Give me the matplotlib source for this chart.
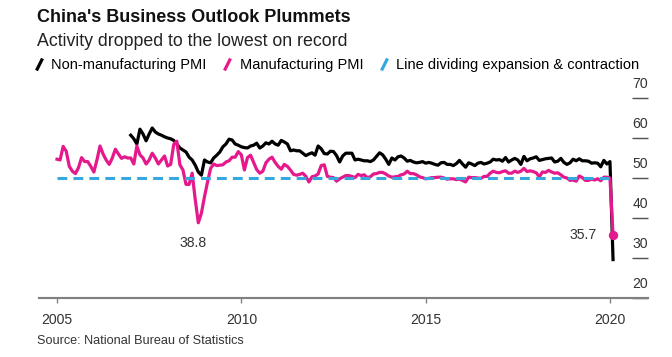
import matplotlib
matplotlib.use('Agg')
import matplotlib.pyplot as plt
import matplotlib.transforms as mtransforms
from matplotlib.lines import Line2D
import numpy as np

plt.rcParams['font.family'] = ['Liberation Sans', 'DejaVu Sans']

# monthly readings, Jan 2005 - Feb 2020
mfg_pmi = [
    54.7, 54.5, 57.9, 56.7, 52.9, 51.7, 51.1, 52.6, 55.1, 54.1, 54.1, 52.9,  # 2005
    51.5, 54.5, 58.0, 56.0, 54.5, 53.4, 55.0, 57.2, 56.0, 54.9, 55.3, 55.0,  # 2006
    55.0, 53.5, 58.0, 55.8, 55.0, 53.5, 54.5, 56.2, 55.0, 53.5, 54.5, 55.5,  # 2007
    53.0, 53.4, 58.4, 59.2, 53.3, 52.0, 48.4, 48.4, 51.2, 44.6, 38.8, 41.2,  # 2008
    45.3, 49.0, 52.4, 53.5, 53.1, 53.2, 53.3, 54.0, 54.3, 55.2, 55.2, 56.6,  # 2009
    55.8, 52.0, 55.1, 55.7, 53.9, 52.1, 51.2, 51.7, 53.8, 54.7, 55.2, 53.9,  # 2010
    52.9, 52.2, 53.4, 52.9, 52.0, 50.9, 50.7, 50.9, 51.2, 50.4, 49.0, 50.3,  # 2011
    50.5, 51.0, 53.1, 53.3, 50.4, 50.2, 50.1, 49.2, 49.8, 50.2, 50.6, 50.6,  # 2012
    50.4, 50.1, 50.9, 50.6, 50.8, 50.1, 50.3, 51.0, 51.1, 51.4, 51.4, 51.0,  # 2013
    50.5, 50.2, 50.3, 50.4, 50.8, 51.0, 51.7, 51.1, 51.1, 50.8, 50.3, 50.1,  # 2014
    49.8, 49.9, 50.1, 50.1, 50.2, 50.2, 50.0, 49.7, 49.8, 49.8, 49.6, 49.7,  # 2015
    49.4, 49.0, 50.2, 50.1, 50.1, 50.0, 49.9, 50.4, 50.4, 51.2, 51.7, 51.4,  # 2016
    51.3, 51.6, 51.8, 51.2, 51.2, 51.7, 51.4, 51.7, 52.4, 51.6, 51.8, 51.6,  # 2017
    51.3, 50.3, 51.5, 51.4, 51.9, 51.5, 51.2, 51.3, 50.8, 50.2, 50.0, 49.4,  # 2018
    49.5, 49.2, 50.5, 50.1, 49.4, 49.4, 49.7, 49.5, 49.8, 49.3, 50.2, 50.2,  # 2019
    50.0, 35.7,                                                              # 2020
]
mfg_start = 2005

# monthly readings, Jan 2007 - Feb 2020
non_mfg_pmi = [
    60.7, 59.8, 58.5, 62.2, 61.0, 59.3, 61.0, 62.5, 61.5, 61.0, 60.7, 60.3,  # 2007
    60.0, 59.8, 59.4, 58.5, 57.5, 57.0, 56.5, 55.2, 54.5, 53.2, 51.5, 50.7,  # 2008
    54.5, 54.0, 53.8, 55.0, 55.7, 56.5, 57.8, 58.5, 59.7, 59.5, 58.5, 58.2,  # 2009
    57.8, 57.6, 57.5, 58.0, 58.2, 58.7, 57.5, 58.0, 58.8, 58.5, 59.2, 58.5,  # 2010
    58.2, 59.4, 59.0, 58.5, 56.8, 57.0, 56.8, 56.8, 56.2, 55.6, 56.0, 56.3,  # 2011
    55.7, 58.0, 57.3, 56.1, 56.0, 56.7, 56.6, 55.6, 54.0, 55.5, 56.2, 56.2,  # 2012
    56.2, 54.5, 54.7, 54.5, 54.3, 54.3, 54.1, 54.5, 55.4, 56.3, 55.8, 54.7,  # 2013
    53.4, 55.0, 54.5, 55.3, 55.5, 55.0, 54.2, 54.4, 54.0, 53.8, 53.9, 54.1,  # 2014
    53.7, 53.9, 53.7, 53.4, 53.2, 53.8, 53.9, 53.4, 53.4, 53.1, 53.6, 54.4,  # 2015
    53.5, 52.7, 53.8, 53.5, 53.1, 53.7, 53.9, 53.5, 53.7, 54.0, 54.7, 54.5,  # 2016
    54.6, 54.2, 55.1, 54.0, 54.5, 54.9, 54.5, 53.4, 55.4, 54.3, 54.8, 55.0,  # 2017
    55.3, 54.4, 54.6, 54.8, 54.9, 55.0, 54.0, 54.2, 54.9, 53.9, 53.4, 53.8,  # 2018
    54.7, 54.3, 54.8, 54.3, 54.3, 54.2, 53.7, 53.8, 53.7, 52.8, 54.4, 53.5,  # 2019
    54.1, 29.6,                                                              # 2020
]
non_mfg_start = 2007

dividing_value = 50
year_ticks = [2005, 2010, 2015, 2020]
value_ticks = [20, 30, 40, 50, 60, 70]

BLACK = '#000000'
MAGENTA = '#e5198c'
CYAN = '#35a8de'
GREY = '#333333'

t_mfg = mfg_start + np.arange(len(mfg_pmi)) / 12
t_non = non_mfg_start + np.arange(len(non_mfg_pmi)) / 12
mfg = np.array(mfg_pmi)

fig = plt.figure(figsize=(7, 3.71875), dpi=96)
ax = fig.add_axes([0.0574, 0.1653, 0.9068, 0.5826])

ax.plot(t_non, non_mfg_pmi, color=BLACK, lw=2.4, zorder=2)
ax.plot(t_mfg, mfg, color=MAGENTA, lw=2.4, zorder=3)
ax.plot(t_mfg, np.full(len(t_mfg), dividing_value), color=CYAN, lw=2.3,
        dashes=(3.2, 2.0), zorder=4)
ax.plot(t_mfg[-1], mfg[-1], 'o', color=MAGENTA, ms=6, zorder=5)

# annotations for the two lows
i_low = int(np.argmin(mfg[:-2]))
ax.annotate(f'{mfg[i_low]:.1f}', (t_mfg[i_low], mfg[i_low]), xytext=(-4, -10),
            textcoords='offset points', ha='center', va='top', fontsize=10.5, color=GREY)
ax.annotate(f'{mfg[-1]:.1f}', (t_mfg[-1], mfg[-1]), xytext=(-12, 0),
            textcoords='offset points', ha='right', va='center', fontsize=10.5, color=GREY)

ax.set_xlim(2004.5, 2021.03)
ax.set_ylim(20, 72)

for s in ['left', 'top', 'right']:
    ax.spines[s].set_visible(False)
ax.spines['bottom'].set_color('#808080')
ax.spines['bottom'].set_linewidth(1.6)

ax.set_xticks(year_ticks)
ax.set_xticklabels([str(y) for y in year_ticks])
ax.tick_params(axis='x', length=4, width=1, color='#808080', pad=7,
               labelsize=10.5, labelcolor=GREY)

ax.set_yticks(value_ticks)
ax.yaxis.set_ticks_position('right')
ax.tick_params(axis='y', direction='in', length=12, width=1.1, color='#555555',
               labelright=False, labelleft=False)
trans = mtransforms.offset_copy(
    mtransforms.blended_transform_factory(ax.transAxes, ax.transData),
    fig=fig, y=5.5, units='points')
for v in value_ticks:
    ax.text(0.987, v, str(v), transform=trans, ha='center', va='bottom',
            fontsize=10.5, color=GREY)

# header
fig.text(37 / 672, 1 - 18 / 357, "China's Business Outlook Plummets",
         fontsize=13.5, fontweight='bold', va='center', color='#111111',
         family=['Liberation Sans Narrow', 'Liberation Sans'])
fig.text(37 / 672, 1 - 41 / 357, 'Activity dropped to the lowest on record',
         fontsize=13.3, va='center', color='#222222')

slash = [(-0.5, -1), (0.5, 1)]
handles = [Line2D([], [], ls='none', marker=slash, ms=9, mew=2.4, mec=c)
           for c in (BLACK, MAGENTA, CYAN)]
labels = ['Non-manufacturing PMI', 'Manufacturing PMI',
          'Line dividing expansion & contraction']
fig.legend(handles, labels, loc='center left', bbox_to_anchor=(33 / 672, 1 - 65 / 357),
           ncol=3, frameon=False, handlelength=0.8, handletextpad=0.45,
           columnspacing=1.0, borderpad=0, borderaxespad=0, fontsize=11)

fig.text(37 / 672, 1 - 341 / 357, 'Source: National Bureau of Statistics',
         fontsize=9.5, va='center', color=GREY)

fig.savefig('out.png', dpi=96)
